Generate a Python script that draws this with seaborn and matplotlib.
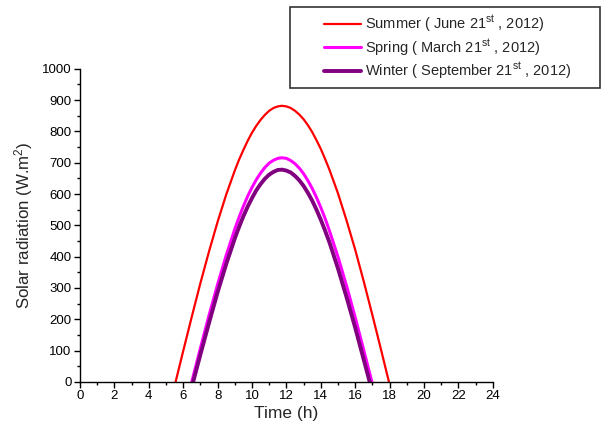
import matplotlib
matplotlib.use("Agg")
import matplotlib.pyplot as plt
import seaborn as sns
import pandas as pd
from matplotlib.patches import Rectangle
from matplotlib.ticker import MultipleLocator

sns.set_theme(style="ticks")
plt.rcParams['font.family'] = ['Liberation Sans', 'DejaVu Sans']
plt.rcParams['mathtext.fontset'] = 'custom'
plt.rcParams['mathtext.rm'] = 'Liberation Sans'
plt.rcParams['mathtext.it'] = 'Liberation Sans:italic'

# Summer (June 21st)
summer_t = [5.56, 6.0, 6.5, 7.0, 7.5, 8.0, 8.5, 9.0, 9.25, 9.5, 9.75, 10.0, 10.25, 10.5,
            10.75, 11.0, 11.25, 11.5, 11.75, 12.0, 12.25, 12.5, 12.75, 13.0, 13.25, 13.5,
            13.75, 14.0, 14.25, 14.5, 15.0, 15.5, 16.0, 16.5, 17.0, 17.5, 17.96]
summer_v = [0, 98, 208, 315, 416, 511, 598, 675, 710, 741, 770, 796, 818, 837,
            853, 866, 875, 880, 882, 880, 875, 866, 854, 839, 820, 798,
            772, 744, 712, 678, 602, 515, 422, 320, 213, 103, 0]
# Spring (March 21st)
spring_t = [6.50, 7.0, 7.5, 8.0, 8.5, 9.0, 9.25, 9.5, 9.75, 10.0, 10.25, 10.5,
            10.75, 11.0, 11.25, 11.5, 11.75, 12.0, 12.25, 12.5, 12.75, 13.0, 13.25, 13.5,
            13.75, 14.0, 14.25, 14.5, 15.0, 15.5, 16.0, 16.5, 16.97]
spring_v = [0, 107, 212, 311, 404, 488, 526, 561, 593, 621, 646, 667,
            685, 699, 708, 714, 716, 714, 707, 697, 683, 665, 643, 618,
            589, 557, 522, 483, 399, 306, 206, 100, 0]
# Winter (September 21st)
winter_t = [6.58, 7.0, 7.5, 8.0, 8.5, 9.0, 9.25, 9.5, 9.75, 10.0, 10.25, 10.5,
            10.75, 11.0, 11.25, 11.5, 11.75, 12.0, 12.25, 12.5, 12.75, 13.0, 13.25, 13.5,
            13.75, 14.0, 14.25, 14.5, 15.0, 15.5, 16.0, 16.5, 16.84]
winter_v = [0, 87, 188, 286, 376, 458, 495, 529, 560, 587, 612, 632,
            649, 662, 671, 677, 678, 675, 669, 658, 644, 626, 604, 579,
            550, 518, 483, 446, 362, 270, 173, 70, 0]

labels = [r'Summer ( June 21$^{\mathrm{st}}$ , 2012)',
          r'Spring ( March 21$^{\mathrm{st}}$ , 2012)',
          r'Winter ( September 21$^{\mathrm{st}}$ , 2012)']
colors = ['#ff0000', '#ff00ff', '#800080']
widths = [1.6, 2.2, 2.8]

fig = plt.figure(figsize=(6.1, 4.33), dpi=100)
ax = fig.add_axes([0.131, 0.118, 0.677, 0.723])

series = [(summer_t, summer_v), (spring_t, spring_v), (winter_t, winter_v)]
handles = []
for (t, v), lab, c, w in zip(series, labels, colors, widths):
    df = pd.DataFrame({'t': t, 'v': v})
    sns.lineplot(data=df, x='t', y='v', ax=ax, color=c, linewidth=w, label=lab,
                 sort=False, estimator=None, legend=False)
    ax.lines[-1].set_solid_joinstyle('round')
    handles.append(ax.lines[-1])

ax.set_xlim(0, 24)
ax.set_ylim(0, 1000)
ax.xaxis.set_major_locator(MultipleLocator(2))
ax.xaxis.set_minor_locator(MultipleLocator(1))
ax.yaxis.set_major_locator(MultipleLocator(100))
ax.yaxis.set_minor_locator(MultipleLocator(50))
ax.tick_params(axis='both', which='major', direction='out', length=4, width=1,
               labelsize=9.5, colors='black', pad=2)
ax.tick_params(axis='both', which='minor', direction='out', length=2.5, width=1, colors='black')
for s in ['left', 'bottom']:
    ax.spines[s].set_color('black')
    ax.spines[s].set_linewidth(1)
sns.despine(ax=ax)
ax.set_xlabel('Time (h)', fontsize=12.5, labelpad=3)
ax.set_ylabel(r'Solar radiation (W.m$^{2}$)', fontsize=12.2, labelpad=5)

fig.patches.append(Rectangle((290 / 610, 1 - 88 / 433), 310 / 610, 81 / 433,
                             transform=fig.transFigure, fill=False,
                             edgecolor='#333333', linewidth=1.2))
fig.legend(handles=handles, labels=labels, loc='center',
           bbox_to_anchor=(448 / 610, 1 - 47.5 / 433), frameon=False,
           fontsize=10.5, handlelength=2.5, handletextpad=0.3, labelspacing=0.2)

fig.savefig('out.png', dpi=100)
